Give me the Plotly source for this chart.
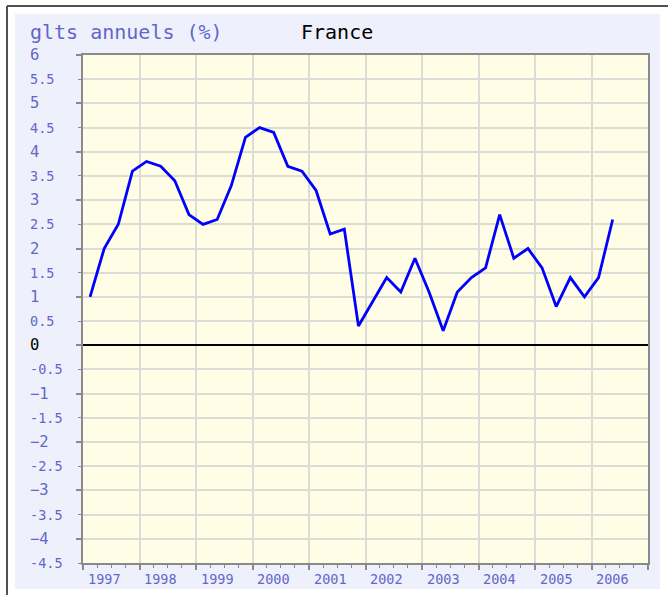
import plotly.graph_objects as go

# Glissement annuel trimestriel, France (en %)
periodes = [
    "1997T1", "1997T2", "1997T3", "1997T4",
    "1998T1", "1998T2", "1998T3", "1998T4",
    "1999T1", "1999T2", "1999T3", "1999T4",
    "2000T1", "2000T2", "2000T3", "2000T4",
    "2001T1", "2001T2", "2001T3", "2001T4",
    "2002T1", "2002T2", "2002T3", "2002T4",
    "2003T1", "2003T2", "2003T3", "2003T4",
    "2004T1", "2004T2", "2004T3", "2004T4",
    "2005T1", "2005T2", "2005T3", "2005T4",
    "2006T1", "2006T2",
]
glissement = [
    1.0, 2.0, 2.5, 3.6,
    3.8, 3.7, 3.4, 2.7,
    2.5, 2.6, 3.3, 4.3,
    4.5, 4.4, 3.7, 3.6,
    3.2, 2.3, 2.4, 0.4,
    0.9, 1.4, 1.1, 1.8,
    1.1, 0.3, 1.1, 1.4,
    1.6, 2.7, 1.8, 2.0,
    1.6, 0.8, 1.4, 1.0,
    1.4, 2.6,
]
annees = [1997, 1998, 1999, 2000, 2001, 2002, 2003, 2004, 2005, 2006]
graduations_y = [6, 5.5, 5, 4.5, 4, 3.5, 3, 2.5, 2, 1.5, 1, 0.5, 0,
                 -0.5, -1, -1.5, -2, -2.5, -3, -3.5, -4, -4.5]

titre = "glts annuels (%)"
pays = "France"

# each quarter is plotted at its mid-point on a yearly axis
x_trim = [int(p[:4]) + (int(p[-1]) - 0.5) / 4 for p in periodes]

BLEU_TXT = "#6565CB"
CREME = "#FFFDE6"
MONO = "DejaVu Sans Mono"

W, H = 668, 595
L, R, T, B = 83, 20, 55, 32
pw, ph = W - L - R, H - T - B


def px_x(px):
    return (px - L) / pw


def px_y(py):
    return (H - B - py) / ph


fig = go.Figure()
fig.add_trace(go.Scatter(
    x=x_trim, y=glissement, mode="lines",
    line=dict(color="#0000FF", width=2.8),
    hoverinfo="skip", showlegend=False,
))

annotations = [
    dict(text=titre, xref="paper", yref="paper", x=px_x(28), y=px_y(32),
         xanchor="left", yanchor="middle", showarrow=False,
         font=dict(family=MONO, size=20, color=BLEU_TXT)),
    dict(text=pays, xref="paper", yref="paper", x=px_x(299), y=px_y(32),
         xanchor="left", yanchor="middle", showarrow=False,
         font=dict(family=MONO, size=20, color="#000000")),
]
for v in graduations_y:
    entier = float(v).is_integer()
    texte = f"{v:g}"
    if entier:
        texte = texte.replace("-", "\u2212")
    annotations.append(dict(
        text=texte,
        xref="paper", yref="y", x=px_x(28), y=v,
        xanchor="left", yanchor="middle", showarrow=False,
        font=dict(family=MONO, size=15.5 if entier else 13.5,
                  color="#000000" if v == 0 else BLEU_TXT),
    ))
for a in annees:
    annotations.append(dict(
        text=str(a), xref="x", yref="paper", x=a + 0.38, y=px_y(579),
        xanchor="center", yanchor="middle", showarrow=False,
        font=dict(family=MONO, size=13.5, color=BLEU_TXT),
    ))

shapes = [
    # light panel behind the whole chart
    dict(type="rect", xref="paper", yref="paper", layer="below",
         x0=px_x(15), x1=px_x(660), y0=px_y(589), y1=px_y(14),
         fillcolor="#EEF1FB", line=dict(width=0)),
    # cream plotting area on top of the panel
    dict(type="rect", xref="x domain", yref="y domain", layer="below",
         x0=0, x1=1, y0=0, y1=1,
         fillcolor=CREME, line=dict(width=0)),
    # outer frame (top and left edges)
    dict(type="line", xref="paper", yref="paper",
         x0=px_x(7), x1=px_x(W + 5), y0=px_y(6), y1=px_y(6),
         line=dict(color="#505050", width=2)),
    dict(type="line", xref="paper", yref="paper",
         x0=px_x(7), x1=px_x(7), y0=px_y(6), y1=px_y(H + 5),
         line=dict(color="#505050", width=2)),
]

fig.update_layout(
    width=W, height=H,
    margin=dict(l=L, r=R, t=T, b=B, pad=0),
    paper_bgcolor="#FFFFFF",
    plot_bgcolor=CREME,
    annotations=annotations,
    shapes=shapes,
    showlegend=False,
    xaxis=dict(
        range=[1997, 2007], tick0=1997, dtick=1,
        ticks="outside", ticklen=5, tickwidth=1.5, tickcolor="#8A8A8A",
        showticklabels=False,
        showgrid=True, gridcolor="#DCDCD6", gridwidth=1.5,
        showline=True, linecolor="#8A8A8A", linewidth=2, mirror=True,
        zeroline=False, fixedrange=True,
        minor=dict(dtick=0.25, tick0=1997, ticks="outside", ticklen=3,
                   tickcolor="#8A8A8A", tickwidth=1, showgrid=False),
    ),
    yaxis=dict(
        range=[-4.5, 6], tick0=0, dtick=1,
        ticks="outside", ticklen=5, tickwidth=1.5, tickcolor="#8A8A8A",
        showticklabels=False,
        showgrid=True, gridcolor="#DCDCD6", gridwidth=1.5,
        showline=True, linecolor="#8A8A8A", linewidth=2, mirror=True,
        zeroline=True, zerolinecolor="#000000", zerolinewidth=1.5,
        fixedrange=True,
        minor=dict(dtick=0.5, tick0=0, ticks="outside", ticklen=3,
                   tickcolor="#8A8A8A", tickwidth=1,
                   showgrid=True, gridcolor="#DCDCD6", gridwidth=1.5),
    ),
)

fig.write_html("out.html")
